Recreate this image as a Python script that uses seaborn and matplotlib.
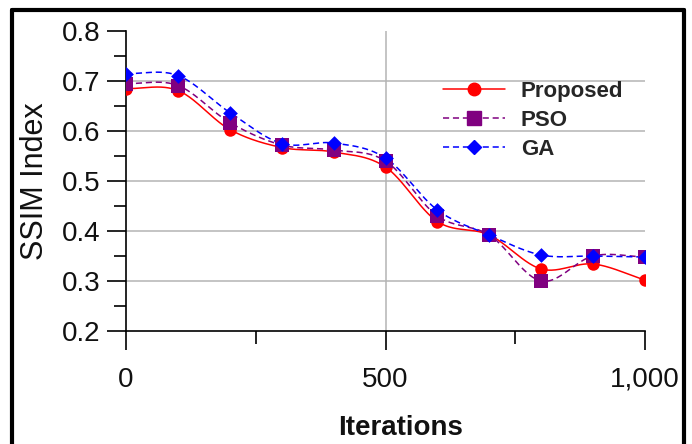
import numpy as np
import pandas as pd
import matplotlib
matplotlib.use("Agg")
import matplotlib.pyplot as plt
import seaborn as sns
from matplotlib.lines import Line2D
from matplotlib.ticker import MultipleLocator, FuncFormatter

# ---- data ----
iterations = [0, 100, 200, 300, 400, 500, 600, 700, 800, 900, 1000]
proposed = [0.685, 0.681, 0.603, 0.567, 0.558, 0.528, 0.419, 0.392, 0.324, 0.334, 0.302]
pso      = [0.695, 0.691, 0.617, 0.572, 0.562, 0.540, 0.430, 0.392, 0.300, 0.350, 0.348]
ga       = [0.715, 0.711, 0.637, 0.575, 0.576, 0.546, 0.442, 0.392, 0.352, 0.350, 0.348]
series_names = ["Proposed", "PSO", "GA"]
y_ticks = [0.2, 0.3, 0.4, 0.5, 0.6, 0.7, 0.8]
x_ticks = [0, 500, 1000]

colors = {"Proposed": "#FF0000", "PSO": "#800080", "GA": "#0000FF"}
markers = {"Proposed": "o", "PSO": "s", "GA": "D"}
msizes = {"Proposed": 9.0, "PSO": 10.0, "GA": 7.5}
dashes = {"Proposed": "", "PSO": (4, 2.5), "GA": (4, 2.5)}


def smooth(x, y, n=40):
    """Catmull-Rom style smoothing of a polyline (Excel-like smoothed line)."""
    x = np.asarray(x, float)
    y = np.asarray(y, float)
    k = len(y)
    m = np.zeros(k)
    for i in range(k):
        if i == 0:
            m[i] = y[1] - y[0]
        elif i == k - 1:
            m[i] = y[-1] - y[-2]
        else:
            m[i] = (y[i + 1] - y[i - 1]) / 2.0
    xs, ys = [], []
    for i in range(k - 1):
        t = np.linspace(0, 1, n, endpoint=(i == k - 2))
        h00 = 2 * t**3 - 3 * t**2 + 1
        h10 = t**3 - 2 * t**2 + t
        h01 = -2 * t**3 + 3 * t**2
        h11 = t**3 - t**2
        ys.append(h00 * y[i] + h10 * m[i] + h01 * y[i + 1] + h11 * m[i + 1])
        xs.append(x[i] + t * (x[i + 1] - x[i]))
    return np.concatenate(xs), np.concatenate(ys)


sns.set_style("white")
plt.rcParams["font.family"] = ["Liberation Sans", "DejaVu Sans"]

fig = plt.figure(figsize=(6.92, 4.44), dpi=100)
ax = fig.add_axes([126 / 692, 1 - 331 / 444, 519 / 692, 300 / 444])

# grid lines (only interior ones, as in reference)
for yv in y_ticks[1:-1]:
    ax.axhline(yv, color="#b4b4b4", lw=1.1, zorder=0)
ax.axvline(500, color="#b4b4b4", lw=1.1, zorder=0)

data = {"Proposed": proposed, "PSO": pso, "GA": ga}
for name in series_names:
    xs, ys = smooth(iterations, data[name])
    dfl = pd.DataFrame({"Iterations": xs, "SSIM": ys})
    sns.lineplot(data=dfl, x="Iterations", y="SSIM", ax=ax, color=colors[name],
                 lw=1.1, dashes=False, estimator=None, sort=False, zorder=3)
    if dashes[name]:
        ax.lines[-1].set_dashes(dashes[name])
    dfp = pd.DataFrame({"Iterations": iterations, "SSIM": data[name]})
    sns.scatterplot(data=dfp, x="Iterations", y="SSIM", ax=ax, color=colors[name],
                    marker=markers[name], s=msizes[name] ** 2, linewidth=0, zorder=4)

ax.set_xlim(0, 1000)
ax.set_ylim(0.2, 0.8)
ax.xaxis.set_major_locator(MultipleLocator(500))
ax.xaxis.set_minor_locator(MultipleLocator(250))
ax.yaxis.set_major_locator(MultipleLocator(0.1))
ax.yaxis.set_minor_locator(MultipleLocator(0.05))
ax.xaxis.set_major_formatter(FuncFormatter(lambda v, p: f"{v:,.0f}"))
ax.yaxis.set_major_formatter(FuncFormatter(lambda v, p: f"{v:.1f}"))

for s in ["top", "right"]:
    ax.spines[s].set_visible(False)
for s in ["left", "bottom"]:
    ax.spines[s].set_color("black")
    ax.spines[s].set_linewidth(1.2)

ax.tick_params(axis="both", which="both", bottom=True, left=True, top=False, right=False)
ax.tick_params(axis="both", which="major", direction="out", length=13.7, width=1.2,
               color="black", labelsize=20, labelcolor="#111111")
ax.tick_params(axis="both", which="minor", direction="out", length=9, width=1.2,
               color="black")
ax.tick_params(axis="y", which="major", pad=5)
ax.tick_params(axis="x", which="major", pad=12)

ax.set_xlabel("Iterations", fontsize=20, fontweight="bold", color="#111111")
ax.xaxis.set_label_coords((401 - 126) / 519, -(435 - 331) / 300, transform=ax.transAxes)
ax.xaxis.label.set_va("baseline")
ax.set_ylabel("SSIM Index", fontsize=22, color="#111111")
ax.yaxis.set_label_coords(-(126 - 50) / 519, 0.5)

handles = [Line2D([], [], color=colors[n], lw=1.1, marker=markers[n],
                  markersize=msizes[n] if n != "GA" else 7.5,
                  linestyle="-" if n == "Proposed" else (0, dashes[n]))
           for n in series_names]
fig.legend(handles, series_names, loc="upper left",
           bbox_to_anchor=(443 / 692, 1 - 81 / 444), frameon=False,
           prop={"family": "Liberation Sans", "weight": "bold", "size": 16},
           handlelength=2.8, handletextpad=0.7, labelspacing=0.36, borderpad=0,
           borderaxespad=0)

# outer frame of the figure (left, top, right)
W, H = 692, 444
fig.add_artist(Line2D([12 / W, 12 / W], [0, 1 - 10 / H], transform=fig.transFigure,
                      color="black", lw=3))
fig.add_artist(Line2D([12 / W, 684 / W], [1 - 10 / H, 1 - 10 / H], transform=fig.transFigure,
                      color="black", lw=3))
fig.add_artist(Line2D([684 / W, 684 / W], [0, 1 - 10 / H], transform=fig.transFigure,
                      color="black", lw=3))

fig.savefig("out.png", dpi=100)
